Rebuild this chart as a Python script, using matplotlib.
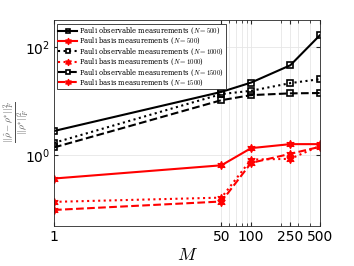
import numpy as np
import matplotlib
matplotlib.use("Agg")
import matplotlib.pyplot as plt
from matplotlib.ticker import FixedLocator, NullFormatter

plt.rcParams['mathtext.fontset'] = 'cm'

M = [1, 50, 100, 250, 500]

obs_500 = [2.8, 14.8, 22, 46, 166]
basis_500 = [0.37, 0.65, 1.35, 1.6, 1.6]
obs_1000 = [1.69, 13.5, 15.5, 21.5, 25.5]
basis_1000 = [0.137, 0.164, 0.83, 0.855, 1.49]
obs_1500 = [1.39, 10.4, 12.9, 13.9, 14.1]
basis_1500 = [0.097, 0.139, 0.72, 1.06, 1.43]

labels = [r'Pauli observable measurements ($N=500$)',
          r'Pauli basis measurements ($N=500$)',
          r'Pauli observable measurements ($N=1000$)',
          r'Pauli basis measurements ($N=1000$)',
          r'Pauli observable measurements ($N=1500$)',
          r'Pauli basis measurements ($N=1500$)']

fig = plt.figure(figsize=(3.54, 2.66), dpi=100)
ax = fig.add_axes([54/354, 40/266, 266/354, 206/266])

hexa = (6, 1, 0)
sq = dict(color='black', lw=1.5, marker='s', ms=4, mfc='none', mew=1.2)
st = dict(color='red', lw=1.5, marker=hexa, ms=6, mfc='red', mew=0.8)

ax.plot(M, obs_500, '-', label=labels[0], **sq)
ax.plot(M, basis_500, '-', label=labels[1], **st)
ax.plot(M, obs_1000, ':', label=labels[2], **sq)
ax.plot(M, basis_1000, ':', label=labels[3], **st)
ax.plot(M, obs_1500, '--', label=labels[4], **sq)
ax.plot(M, basis_1500, '--', label=labels[5], **st)

ax.set_xscale('log')
ax.set_yscale('log')
ax.set_xlim(1, 500)
ax.set_ylim(0.049, 316)

ax.xaxis.set_major_locator(FixedLocator(M))
ax.set_xticklabels([str(m) for m in M])
ax.xaxis.set_minor_locator(FixedLocator([60, 70, 80, 90, 200, 300, 400]))
ax.xaxis.set_minor_formatter(NullFormatter())
ax.yaxis.set_major_locator(FixedLocator([1, 100]))
ax.yaxis.set_minor_locator(FixedLocator([]))
ax.set_yticklabels([r'$\mathregular{10^0}$', r'$\mathregular{10^2}$'])

ax.grid(True, which='both', axis='x', color='#e6e6e6', lw=0.6)
ax.grid(True, which='major', axis='y', color='#e6e6e6', lw=0.6)
ax.set_axisbelow(True)

ax.tick_params(which='both', direction='in', top=True, right=True,
               labelsize=10, length=3, color='#262626', pad=3)
ax.tick_params(which='minor', length=2)
for s in ax.spines.values():
    s.set_color('#262626')
    s.set_linewidth(0.6)

ax.set_xlabel(r'$M$', fontsize=13, labelpad=1)
fig.text(16/354, 1 - 122/266,
         r'$\frac{||\hat{\rho}-\rho^{*}||_F^2}{||\rho^{*}||_F^2}$',
         fontsize=9.5, color='#505050', rotation=90, ha='center', va='center')

leg = ax.legend(loc='upper left', frameon=True, fancybox=False,
                edgecolor='#262626', framealpha=1, borderpad=0.2,
                labelspacing=0.0, handlelength=2.8, handletextpad=0.3,
                borderaxespad=0.2, bbox_to_anchor=(0.006, 0.985),
                markerscale=0.8,
                prop={'family': 'DejaVu Serif', 'size': 4.9})
leg.get_frame().set_linewidth(0.6)

fig.savefig('out.png', dpi=100)
